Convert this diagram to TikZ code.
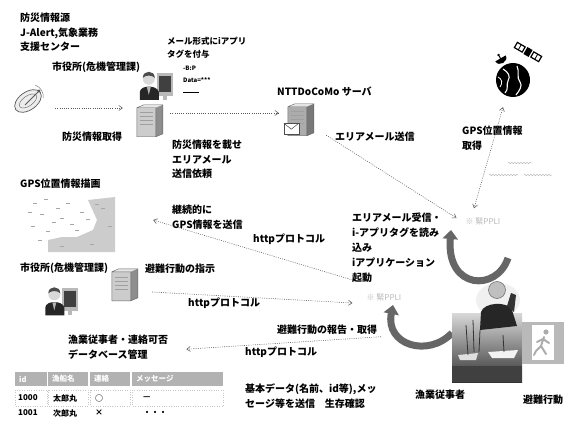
\documentclass[tikz,border=0pt]{standalone}
\usepackage{fontspec}
\setmainfont{Noto Sans CJK JP}
\usetikzlibrary{arrows.meta,calc,decorations.pathmorphing}

\tikzset{
  txt/.style={anchor=west, inner sep=0pt, font=\bfseries\fontsize{10}{14.5}\selectfont},
  txtblock/.style={anchor=north west, inner sep=0pt, align=left, font=\bfseries\fontsize{10}{14.5}\selectfont},
  tinytxt/.style={anchor=west, inner sep=0pt, font=\bfseries\fontsize{6}{7}\selectfont},
  iconbox/.style={inner sep=0pt, draw=none, rectangle},
  phonetxt/.style={inner sep=1pt, text=gray!55, font=\fontsize{8}{9}\selectfont},
  dotlink/.style={draw=black!65, line width=0.55pt, dash pattern=on 0.9pt off 1.3pt,
    -{Straight Barb[length=3.5pt,width=5pt]}},
  dotlinkboth/.style={dotlink, {Straight Barb[length=3.5pt,width=5pt]}-{Straight Barb[length=3.5pt,width=5pt]}},
  bigarrow/.style={draw=black!60, line width=7pt, -{Triangle[width=15pt,length=9pt]}},
  hdr/.style={anchor=west, inner sep=0pt, text=white, font=\bfseries\fontsize{7.5}{9}\selectfont},
  cell/.style={anchor=west, inner sep=0pt, font=\bfseries\fontsize{8}{9}\selectfont},
  wave/.style={draw=gray!60, line width=0.4pt, decorate, decoration={snake, amplitude=0.8pt, segment length=3pt}},
  % server tower, 26 x 32, origin at top left
  pics/server/.style={code={
    \fill[gray!20] (0,3) -- (7,0) -- (26,0) -- (19,3) -- cycle;
    \fill[#1] (0,3) rectangle (19,32);
    \fill[#1] (19,3) -- (26,0) -- (26,29) -- (19,32) -- cycle;
    \fill[black, fill opacity=0.3] (19,3) -- (26,0) -- (26,29) -- (19,32) -- cycle;
    \foreach \yy in {8,12,16,20} \draw[gray!75, line width=0.6pt] (3,\yy) -- (16,\yy);
    \draw[black!60, line width=0.4pt] (0,3) -- (7,0) -- (26,0) -- (26,29) -- (19,32) -- (0,32) -- cycle
      (19,3) -- (19,32) (0,3) -- (19,3);
  }},
  % person at a computer, 33 x 33, origin at top left
  pics/officer/.style={code={
    \fill[gray!55] (17,6) rectangle (33,29);
    \fill[black!75] (19,9) rectangle (31,25);
    \fill[gray!55] (23,29) rectangle (27,33);
    \fill[black!85] (0,33) -- (0,25) .. controls (1,18) and (17,18) .. (19,25) -- (19,33) -- cycle;
    \fill[gray!30] (9,12) circle (6);
    \fill[black!70] (3,11) .. controls (3,3) and (15,3) .. (15,11) .. controls (12,8) and (6,8) .. (3,11) -- cycle;
    \fill[gray!60] (7,20) -- (11,20) -- (9,28) -- cycle;
  }},
  % envelope, 15 x 11
  pics/envelope/.style={code={
    \filldraw[fill=white, draw=black!70, line width=0.5pt] (0,0) rectangle (15,11);
    \draw[black!70, line width=0.5pt] (0,0) -- (7.5,6) -- (15,0);
  }},
}

\begin{document}
\begin{tikzpicture}[x=1pt,y=-1pt]
\fill[white] (0,0) rectangle (571,428);
\useasboundingbox (0,0) rectangle (571,428);

% ---------- warning source and city office (top left)
\node[txtblock] (src) at (20,13) {防災情報源\\J-Alert,気象業務\\支援センター};
\node[txt] (city1) at (52,67) {市役所(危機管理課)};

\node[iconbox, minimum width=30, minimum height=32] (dish) at (28,101) {};
\begin{scope}[shift={(dish.center)}]
  \filldraw[fill=gray!15, draw=black!65, line width=0.7pt, rotate=35] (0,0) ellipse [x radius=15pt, y radius=9pt];
  \draw[black!55, line width=0.5pt, rotate=35] (0,0) ellipse [x radius=10pt, y radius=5pt];
  \draw[black!65, line width=0.8pt] (-3,4) -- (11,-10);
  \fill[black!65] (11,-10) circle (1.6);
  \draw[black!50, line width=0.5pt] (7,-16) .. controls (13,-14) and (16,-8) .. (15,-3);
\end{scope}

\node[iconbox, minimum width=33, minimum height=33] (off1) at (156.5,83.5) {};
\pic at (off1.north west) {officer};
\node[iconbox, minimum width=26, minimum height=32] (srv1) at (150,121) {};
\pic at (srv1.north west) {server=gray!40};

\draw[dotlink] ($(dish.east)+(12,7)$) -- ($(srv1.west)+(-14,-13)$);
\node[txt] (get) at (62,137) {防災情報取得};

\node[txtblock, font=\bfseries\fontsize{8.5}{12.5}\selectfont] (tag) at (167,37) {メール形式にiアプリ\\タグを付与};
\node[tinytxt] (tg1) at (183,68) {-B:P};
\node[tinytxt] (tg2) at (183,80) {Data=***};
\node[tinytxt] (tg3) at (183,92) {\rule{16pt}{0.6pt}};

% ---------- carrier server
\node[txt] (nttl) at (277,92) {NTTDoCoMo サーバ};
\node[iconbox, minimum width=26, minimum height=32] (ntt) at (301,120) {};
\pic at (ntt.north west) {server=gray!65};
\pic at ($(ntt.south west)+(-4,-13)$) {envelope};
\draw[dotlink] ($(srv1.east)+(7,-8)$) -- ($(ntt.west)+(-9,-7)$);

\node[txtblock] (req) at (172,140) {防災情報を載せ\\エリアメール\\送信依頼};
\node[txt] (send) at (335,137) {エリアメール送信};

% ---------- GPS
\node[iconbox, circle, minimum size=34] (globe) at (513,80) {};
\begin{scope}[shift={(globe.center)}]
  \fill[black] (0,0) circle (17);
  \draw[white, line width=1.1pt] (-10,-11) .. controls (-5,-8) and (-2,-4) .. (-5,1) .. controls (-7,5) and (-4,9) .. (-8,13);
  \draw[white, line width=1.1pt] (4,-14) .. controls (7,-8) and (3,-3) .. (7,2) .. controls (10,6) and (6,11) .. (3,15);
  \draw[white, line width=0.8pt] (-15,-3) .. controls (-11,-1) and (-10,3) .. (-13,7);
\end{scope}
\begin{scope}[shift={(528,52)}, rotate=-30]
  \fill[black] (-3,-4) rectangle (3,4);
  \filldraw[fill=white, draw=black, line width=1.2pt] (-14,-3) rectangle (-5,3);
  \filldraw[fill=white, draw=black, line width=1.2pt] (5,-3) rectangle (14,3);
  \draw[black, line width=0.8pt] (-9.5,-3) -- (-9.5,3) (9.5,-3) -- (9.5,3);
\end{scope}
\begin{scope}[shift={(502,61)}, rotate=30]
  \fill[black] (-6,-3) .. controls (-6,4) and (6,4) .. (6,-3) -- cycle;
  \draw[black, line width=1pt] (0,1) -- (0,-7);
  \fill[black] (0,-7) circle (1.3);
\end{scope}

\node[txtblock] (gpsl) at (462,126) {GPS位置情報\\取得};
\draw[wave] (508,163) -- (532,163);
\draw[wave] (489,175) -- (518,175);
\draw[wave] (524,175) -- (552,175);

\node[phonetxt] (phone1) at (483,222) {※ 緊PPLI};
\draw[dotlink] ($(ntt.south east)+(12,-1)$) -- ($(phone1.west)+(-8,-4)$);
\draw[dotlinkboth] ($(globe.south)+(-10,10)$) -- ($(phone1.north)+(-9,-9)$);

\node[txtblock, font=\bfseries\fontsize{10}{15}\selectfont] (recv) at (352,213)
  {エリアメール受信・\\i-アプリタグを読み\\込み\\iアプリケーション\\起動};

\draw[bigarrow] (508,258) .. controls (497,292) and (446,290) .. (451,230);

% ---------- map of GPS positions
\node[txt] (gpsmap) at (20,184) {GPS位置情報描画};
\node[iconbox, minimum width=90, minimum height=58] (map) at (70,224) {};
\fill[gray!40] (88,200) -- (115,197) -- (115,252) -- (48,252) -- (48,240) -- (62,237) -- (77,237)
  -- (93,230) -- (97,220) -- cycle;
\foreach \px/\py in {33/203,44/199,56/208,40/214,60/218,31/226,46/231,70/224,80/212,95/204,
                     38/240,66/203,86/219,28/212,52/222,75/230,101/208,108/226,60/246,90/244}
  \draw[gray!70, line width=0.6pt] (\px,\py) -- ++(4,0);

\node[txtblock] (cont) at (172,205) {継続的に\\GPS情報を送信};
\node[phonetxt] (phone2) at (384,298) {※ 緊PPLI};
\draw[dotlink] ($(phone2.west)+(-13,-18)$) -- ($(map.east)+(38,-4)$);
\node[txt] (http1) at (253,239) {httpプロトコル};

% ---------- city office, evacuation instructions
\node[txt] (city2) at (20,268) {市役所(危機管理課)};
\node[txt] (instr) at (145,269) {避難行動の指示};
\node[iconbox, minimum width=26, minimum height=32] (srv2) at (125,285) {};
\pic at (srv2.north west) {server=gray!40};
\node[iconbox, minimum width=33, minimum height=33] (off2) at (62,299) {};
\pic at (off2.north west) {officer};
\draw[dotlink] ($(srv2.east)+(14,7)$) -- ($(phone2.west)+(-13,5)$);
\node[txt] (http2) at (188,303) {httpプロトコル};

\node[txt] (report) at (277,330) {避難行動の報告・取得};
\node[txtblock] (dbl) at (68,335) {漁業従事者・連絡可否\\データベース管理};
\draw[dotlink] ($(phone2.south)+(-3,34)$) -- ($(dbl.east)+(18,2)$);
\node[txt] (http3) at (245,352) {httpプロトコル};

\draw[bigarrow] (452,333) .. controls (428,358) and (385,345) .. (393,305);

% ---------- fisherman photo and exit sign
\node[iconbox, minimum width=72, minimum height=95] (fisher) at (487,335) {};
\shade[top color=gray!30, bottom color=black!80] (452,313) rectangle (522,382);
\fill[black!75] (452,366) rectangle (522,382);
\fill[gray!10] (488,352) -- (518,350) -- (514,358) -- (492,358) -- cycle;
\fill[gray!25] (458,355) -- (478,353) -- (476,360) -- (460,360) -- cycle;
\draw[black!80, line width=0.8pt] (466,325) -- (468,355) (473,320) -- (474,352) (480,330) -- (479,352) (503,335) -- (504,352);
\fill[gray!12] (498,300) ellipse [x radius=22pt, y radius=17pt];
\fill[black!85] (480,330) -- (481,312) .. controls (484,302) and (508,301) .. (512,310) -- (517,326) -- cycle;
\fill[gray!50] (497,290) circle (8.5);
\draw[black!60, line width=0.5pt] (497,290) circle (8.5);
\fill[black!80] (507,306) -- (511,293) -- (516,295) -- (514,312) -- cycle;

\node[iconbox, minimum width=42, minimum height=42] (exit) at (543,343) {};
\fill[gray!55] (exit.north west) rectangle (exit.south east);
\fill[white] (532,325) rectangle (554,360);
\fill[gray!65] (546,332) circle (2.6);
\draw[gray!65, line width=2pt, line cap=round]
  (544,337) -- (541,346) -- (546,354) (541,346) -- (536,351) -- (534,355)
  (543,339) -- (549,343) (543,339) -- (537,342);

\node[txt] (fishl) at (415,395) {漁業従事者};
\node[txt] (evacl) at (523,400) {避難行動};
\node[txtblock] (basic) at (245,384) {基本データ(名前、id等),メッ\\セージ等を送信\quad 生存確認};

% ---------- database table
\node[iconbox, minimum width=208, minimum height=50] (db) at (119,396) {};
\foreach \xa/\xb/\t in {15/47/id, 48/88/漁船名, 90/130/連絡, 132/223/メッセージ} {
  \fill[gray!60] (\xa,372) rectangle (\xb,386);
  \node[hdr] at (\xa+4,379) {\t};
  \draw[gray!45, dotted] (\xa,390) rectangle (\xb,406);
}
\node[cell] at (18,398) {1000};
\node[cell] at (53,398) {太郎丸};
\node[cell] at (95,398) {○};
\node[cell] at (143,398) {---};
\node[cell] at (18,413) {1001};
\node[cell] at (53,413) {次郎丸};
\node[cell] at (95,413) {×};
\node[cell] at (143,413) {・・・};
\end{tikzpicture}
\end{document}
